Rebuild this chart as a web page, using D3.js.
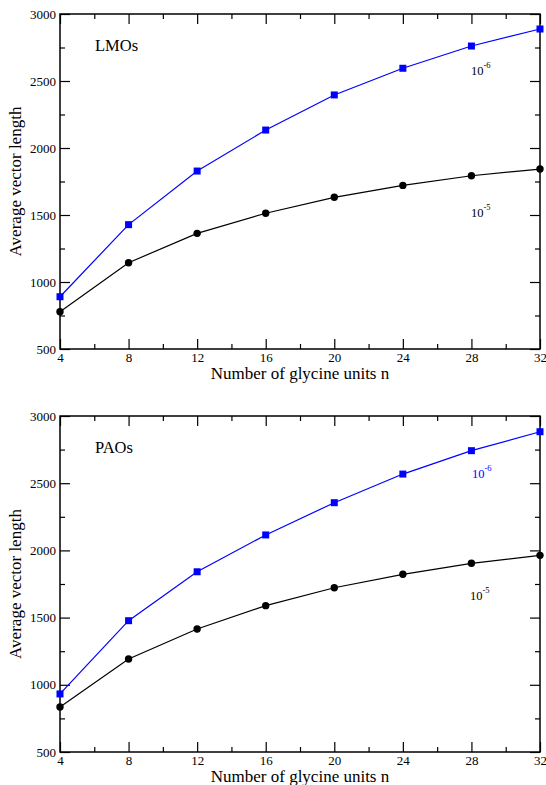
<!DOCTYPE html>
<html>
<head>
<meta charset="utf-8">
<script src="https://cdn.jsdelivr.net/npm/d3@7"></script>
<style>
  body { margin: 0; background: #fff; }
  svg { display: block; }
  svg text { font-family: "Liberation Serif", "Times New Roman", serif; fill: #000; }
</style>
</head>
<body>
<script>
// Width and height of the whole figure
const width = 546;
const height = 785;

// Number of glycine units
const glycineUnits = [4, 8, 12, 16, 20, 24, 28, 32];

// LMOs panel, threshold 1e-6 (blue squares) and 1e-5 (black circles)
const lmoTight = [890, 1428, 1828, 2134, 2396, 2595, 2761, 2888];
const lmoLoose = [778, 1144, 1363, 1513, 1632, 1721, 1793, 1843];

// PAOs panel
const paoTight = [932, 1477, 1841, 2115, 2355, 2568, 2742, 2883];
const paoLoose = [835, 1192, 1415, 1589, 1722, 1822, 1904, 1963];

// Tick values
const xMajor = [4, 8, 12, 16, 20, 24, 28, 32];
const xMinor = [6, 10, 14, 18, 22, 26, 30];
const yMajor = [500, 1000, 1500, 2000, 2500, 3000];
const yMinor = [750, 1250, 1750, 2250, 2750];

const svg = d3.select("body").append("svg")
    .attr("width", width)
    .attr("height", height);

const x = d3.scaleLinear().domain([4, 32]).range([60, 540]);

function drawPanel(top, bottom, name, tight, loose, annot) {
    const y = d3.scaleLinear().domain([500, 3000]).range([bottom, top]);
    const g = svg.append("g");

    // inward ticks on all four sides
    const addAxis = (axis, tf, size, labels) => {
        const a = g.append("g")
            .attr("transform", tf)
            .call(axis.tickSize(size).tickPadding(labels ? 4 : 0));
        a.attr("font-family", null).attr("font-size", null);
        a.select(".domain").remove();
        a.selectAll("line").attr("stroke", "#000").attr("stroke-width", 1.2);
        if (!labels) a.selectAll("text").remove();
        else a.selectAll("text").attr("fill", "#000").style("font-size", "13px");
        return a;
    };
    addAxis(d3.axisBottom(x).tickValues(xMajor).tickFormat(d3.format("d")), `translate(0,${bottom})`, -10, true)
        .selectAll("text").attr("dy", null).attr("y", 12.5);
    addAxis(d3.axisBottom(x).tickValues(xMinor), `translate(0,${bottom})`, -5, false);
    addAxis(d3.axisTop(x).tickValues(xMajor), `translate(0,${top})`, -10, false);
    addAxis(d3.axisTop(x).tickValues(xMinor), `translate(0,${top})`, -5, false);
    addAxis(d3.axisLeft(y).tickValues(yMajor).tickFormat(d3.format("d")), `translate(60,0)`, -10, true)
        .selectAll("text").attr("x", -4);
    addAxis(d3.axisLeft(y).tickValues(yMinor), `translate(60,0)`, -5, false);
    addAxis(d3.axisRight(y).tickValues(yMajor), `translate(540,0)`, -10, false);
    addAxis(d3.axisRight(y).tickValues(yMinor), `translate(540,0)`, -5, false);

    // frame
    g.append("rect")
        .attr("x", 60).attr("y", top)
        .attr("width", 480).attr("height", bottom - top)
        .attr("fill", "none").attr("stroke", "#000").attr("stroke-width", 1.5);

    const line = d3.line().x((d, i) => x(glycineUnits[i])).y(d => y(d));

    // 1e-5 series
    g.append("path").datum(loose)
        .attr("d", line).attr("fill", "none").attr("stroke", "#000").attr("stroke-width", 1.2);
    g.selectAll(".dot").data(loose).join("circle")
        .attr("cx", (d, i) => x(glycineUnits[i])).attr("cy", d => y(d))
        .attr("r", 3.7).attr("fill", "#000");

    // 1e-6 series
    g.append("path").datum(tight)
        .attr("d", line).attr("fill", "none").attr("stroke", "#0000ff").attr("stroke-width", 1.2);
    g.selectAll(".sq").data(tight).join("rect")
        .attr("x", (d, i) => x(glycineUnits[i]) - 3.5).attr("y", d => y(d) - 3.5)
        .attr("width", 7).attr("height", 7).attr("fill", "#0000ff");

    // panel name
    g.append("text").attr("x", 95).attr("y", top + 37)
        .style("font-size", "16.5px").text(name);

    // threshold annotations
    annot.forEach(a => {
        const t = g.append("text").attr("x", a.x).attr("y", a.y)
            .style("font-size", "12.5px").style("fill", a.color);
        t.append("tspan").text("10");
        t.append("tspan").style("font-size", "8.5px").attr("dy", -7).text(a.exp);
    });

    // axis titles
    g.append("text")
        .attr("x", 300).attr("y", bottom + 30)
        .attr("text-anchor", "middle").style("font-size", "17px")
        .text("Number of glycine units n");
    g.append("text")
        .attr("transform", `translate(21,${(top + bottom) / 2}) rotate(-90)`)
        .attr("text-anchor", "middle").style("font-size", "17px")
        .text("Average vector length");
}

drawPanel(14, 349, "LMOs", lmoTight, lmoLoose, [
    {x: 471, y: 75, exp: "-6", color: "#000"},
    {x: 471, y: 216.5, exp: "-5", color: "#000"}
]);
drawPanel(416, 752, "PAOs", paoTight, paoLoose, [
    {x: 472, y: 478, exp: "-6", color: "#0000ff"},
    {x: 470, y: 600, exp: "-5", color: "#000"}
]);
</script>
</body>
</html>
